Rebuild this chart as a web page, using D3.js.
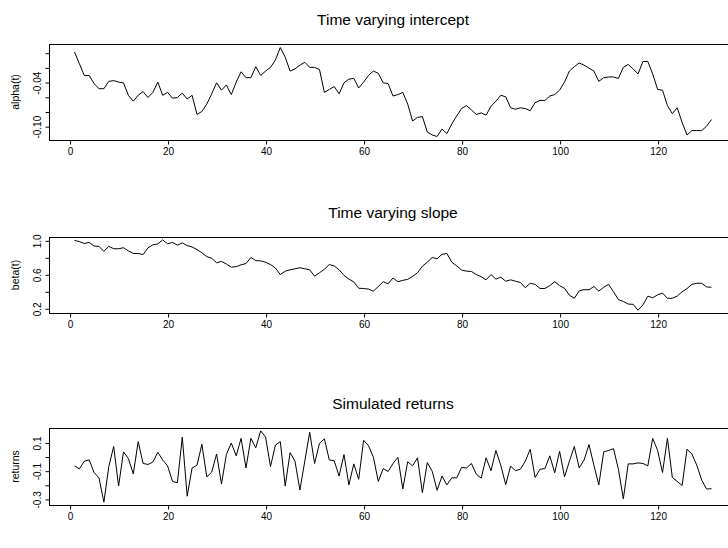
<!doctype html>
<html lang="en">
<head>
<meta charset="UTF-8">
<title>Time varying regression</title>
<script src="https://cdn.jsdelivr.net/npm/d3@7"></script>
<style>
body { margin: 0; background: #fff; }
svg text { font-family: "Liberation Sans", Arial, sans-serif; fill: #000; }
</style>
</head>
<body>
<script>
// state series, t = 1..131
var alpha = [0.001,-0.015,-0.031,-0.031,-0.042,-0.049,-0.049,-0.039,-0.038,-0.040,
  -0.041,-0.058,-0.066,-0.058,-0.053,-0.061,-0.054,-0.040,-0.058,-0.054,
  -0.062,-0.061,-0.055,-0.063,-0.058,-0.084,-0.080,-0.070,-0.056,-0.041,
  -0.051,-0.044,-0.057,-0.040,-0.026,-0.034,-0.034,-0.019,-0.031,-0.025,
  -0.020,-0.010,0.007,-0.006,-0.025,-0.022,-0.017,-0.013,-0.020,-0.020,
  -0.023,-0.054,-0.050,-0.046,-0.056,-0.041,-0.036,-0.035,-0.048,-0.040,
  -0.031,-0.025,-0.028,-0.041,-0.042,-0.059,-0.057,-0.054,-0.070,-0.093,
  -0.088,-0.087,-0.108,-0.112,-0.114,-0.104,-0.110,-0.097,-0.086,-0.076,
  -0.072,-0.078,-0.084,-0.082,-0.085,-0.073,-0.066,-0.058,-0.060,-0.075,
  -0.077,-0.075,-0.076,-0.079,-0.068,-0.065,-0.065,-0.059,-0.057,-0.051,
  -0.040,-0.025,-0.019,-0.014,-0.017,-0.021,-0.025,-0.039,-0.034,-0.033,
  -0.033,-0.035,-0.020,-0.016,-0.022,-0.029,-0.012,-0.012,-0.029,-0.050,
  -0.051,-0.072,-0.083,-0.075,-0.095,-0.112,-0.106,-0.106,-0.106,-0.100,
  -0.091];

var beta = [1.000,0.984,0.963,0.975,0.932,0.929,0.870,0.929,0.901,0.901,
  0.913,0.876,0.845,0.845,0.833,0.913,0.947,0.957,1.006,0.960,
  0.975,0.944,0.969,0.938,0.922,0.891,0.854,0.808,0.789,0.736,
  0.752,0.721,0.684,0.690,0.712,0.727,0.798,0.761,0.758,0.743,
  0.715,0.674,0.597,0.637,0.653,0.665,0.678,0.665,0.653,0.578,
  0.619,0.659,0.715,0.699,0.653,0.588,0.544,0.510,0.436,0.433,
  0.426,0.402,0.457,0.513,0.488,0.557,0.513,0.529,0.541,0.575,
  0.619,0.696,0.743,0.798,0.783,0.836,0.845,0.743,0.699,0.650,
  0.637,0.634,0.597,0.572,0.535,0.597,0.544,0.566,0.519,0.535,
  0.519,0.504,0.442,0.495,0.482,0.433,0.433,0.467,0.513,0.467,
  0.436,0.355,0.318,0.405,0.420,0.417,0.457,0.402,0.448,0.482,
  0.395,0.302,0.281,0.250,0.247,0.178,0.240,0.343,0.324,0.358,
  0.380,0.318,0.318,0.343,0.395,0.433,0.482,0.495,0.495,0.451,
  0.448];

var returns = [-0.066,-0.087,-0.033,-0.024,-0.113,-0.151,-0.323,-0.071,0.071,-0.209,
  0.033,-0.014,-0.123,0.106,-0.049,-0.056,-0.039,0.030,-0.024,-0.066,
  -0.176,-0.186,0.138,-0.281,-0.081,-0.062,0.087,-0.144,-0.110,0.018,
  -0.195,0.014,0.096,0.005,0.129,-0.081,0.129,0.062,0.182,0.138,
  -0.071,0.081,0.106,-0.209,0.028,-0.033,-0.237,-0.033,0.172,-0.049,
  0.094,0.125,-0.024,-0.030,-0.138,0.014,-0.201,-0.052,-0.161,0.115,
  0.077,-0.005,-0.176,-0.085,-0.106,-0.049,-0.005,-0.230,-0.037,-0.066,
  -0.009,-0.256,-0.043,-0.104,-0.239,-0.138,-0.201,-0.151,-0.151,-0.077,
  -0.081,-0.049,-0.125,-0.153,-0.009,-0.100,0.043,-0.062,-0.199,-0.068,
  -0.100,-0.090,-0.033,0.052,-0.148,-0.090,-0.085,0.005,-0.115,0.037,
  -0.144,-0.033,0.071,-0.081,-0.024,0.085,-0.062,-0.201,0.033,0.043,
  0.056,-0.090,-0.300,-0.052,-0.052,-0.045,-0.049,-0.066,0.129,0.043,
  -0.113,0.129,-0.148,-0.176,-0.205,0.052,0.018,-0.062,-0.167,-0.230,
  -0.228];

var xTicks = [0, 20, 40, 60, 80, 100, 120];
var alphaTicks = [-0.10, -0.08, -0.06, -0.04, -0.02, 0.00];
var alphaLabels = ["-0.10", "-0.04"];
var betaTicks = [0.2, 0.4, 0.6, 0.8, 1.0];
var betaLabels = ["0.2", "0.6", "1.0"];
var retTicks = [-0.3, -0.2, -0.1, 0.0, 0.1];
var retLabels = ["-0.3", "-0.1", "0.1"];

var W = 728, H = 548;
var left = 49, right = 737; // plot box runs past the right edge, as in the original

var svg = d3.select("body").append("svg")
  .attr("width", W).attr("height", H);

// R-style range: data extent padded by 4% on each side
function pad(ext){
  var d = (ext[1] - ext[0]) * 0.04;
  return [ext[0] - d, ext[1] + d];
}

var t = d3.range(1, alpha.length + 1);
var x = d3.scaleLinear().domain(pad(d3.extent(t))).range([left, right]);

var panels = [
  {title: "Time varying intercept", ylab: "alpha(t)", values: alpha,
   ticks: alphaTicks, labels: alphaLabels, digits: 2, top: 44, bottom: 140},
  {title: "Time varying slope", ylab: "beta(t)", values: beta,
   ticks: betaTicks, labels: betaLabels, digits: 1, top: 237, bottom: 313},
  {title: "Simulated returns", ylab: "returns", values: returns,
   ticks: retTicks, labels: retLabels, digits: 1, top: 428, bottom: 505}
];

panels.forEach(function(p){
  var y = d3.scaleLinear().domain(pad(d3.extent(p.values))).range([p.bottom, p.top]);
  var g = svg.append("g");

  g.append("text")
    .attr("x", (left + right) / 2)
    .attr("y", p.top - 19)
    .attr("text-anchor", "middle")
    .attr("font-size", "15.5px")
    .text(p.title);

  g.append("rect")
    .attr("x", left + 0.5).attr("y", p.top + 0.5)
    .attr("width", right - left).attr("height", p.bottom - p.top)
    .attr("fill", "none").attr("stroke", "#000").attr("stroke-width", 1);

  var line = d3.line()
    .x(function(d, i){ return x(t[i]); })
    .y(function(d){ return y(d); });

  g.append("path")
    .datum(p.values)
    .attr("d", line)
    .attr("fill", "none")
    .attr("stroke", "#000")
    .attr("stroke-width", 1);

  // bottom axis
  var xa = g.append("g")
    .attr("transform", "translate(0.5," + (p.bottom + 0.5) + ")")
    .call(d3.axisBottom(x).tickValues(xTicks).tickSize(4).tickSizeOuter(0).tickPadding(3));
  xa.select(".domain").remove();
  xa.selectAll("text").attr("font-size", "10px").attr("font-family", null);

  // left axis, labels parallel to the axis; plain hyphen minus like the original
  var ya = g.append("g")
    .attr("transform", "translate(" + (left + 0.5) + ",0.5)")
    .call(d3.axisLeft(y).tickValues(p.ticks).tickSize(4)
      .tickFormat(function(d){
        var s = d.toFixed(p.digits);
        return p.labels.indexOf(s) >= 0 ? s : "";
      }));
  ya.select(".domain").remove();
  ya.selectAll("text")
    .attr("font-size", "10px").attr("font-family", null)
    .attr("text-anchor", "middle")
    .attr("dy", null)
    .attr("x", null)
    .attr("transform", "translate(-9,0) rotate(-90)");

  g.append("text")
    .attr("transform", "translate(19," + ((p.top + p.bottom) / 2) + ") rotate(-90)")
    .attr("text-anchor", "middle")
    .attr("font-size", "10.5px")
    .text(p.ylab);
});
</script>
</body>
</html>
